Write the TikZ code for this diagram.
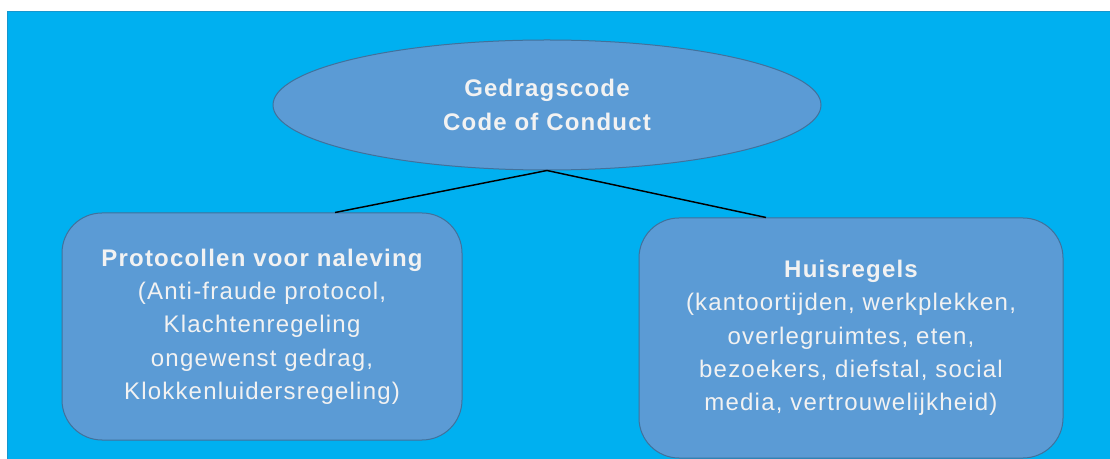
\documentclass[tikz,border=0pt]{standalone}
\usepackage{fontspec}
\setmainfont{Liberation Sans}[LetterSpace=5]
\usetikzlibrary{shapes.geometric,calc}

\definecolor{bgcyan}{RGB}{0,176,240}
\definecolor{bgedge}{RGB}{22,150,206}
\definecolor{boxblue}{RGB}{91,155,213}
\definecolor{boxline}{RGB}{65,113,156}
\definecolor{boxtext}{RGB}{242,242,242}

\tikzset{every picture/.style={line width=0.75pt}}
\tikzset{
  topic/.style={ellipse, draw=boxline, fill=boxblue, text=boxtext, inner sep=0pt,
    font=\fontsize{18}{25.5}\selectfont\bfseries, align=center,
    minimum width=411pt, minimum height=97.5pt},
  rulebox/.style={rectangle, rounded corners=30pt, draw=boxline, fill=boxblue,
    text=boxtext, inner sep=0pt, font=\fontsize{18}{25}\selectfont, align=center},
  link/.style={draw=black, line width=1.1pt}
}

\begin{document}
\begin{tikzpicture}[x=0.75pt,y=0.75pt,yscale=-1,xscale=1]
\useasboundingbox (0,0) rectangle (1110,459);

%Background
\fill [bgcyan] (7,12) rectangle (1110,459);
\draw [bgedge] (7,459) -- (7,12) -- (1110,12);

% Ellipse
\node [topic] (code) at (547,105) {Gedragscode\\Code of Conduct};

% Rounded boxes
\node [rulebox, minimum width=300pt, minimum height=170.25pt] (prot) at (262,326.5)
  {{\bfseries Protocollen voor naleving}\\(Anti-fraude protocol,\\Klachtenregeling\\ongewenst gedrag,\\Klokkenluidersregeling)};
\node [rulebox, minimum width=318pt, minimum height=180pt] (huis) at (851,338)
  {{\bfseries Huisregels}\\(kantoortijden, werkplekken,\\overlegruimtes, eten,\\bezoekers, diefstal, social\\media, vertrouwelijkheid)};

%Straight Lines
\draw [link] (code.south) -- ($(prot.north)+(73,0)$);
\draw [link] (code.south) -- ($(huis.north)+(-85,0)$);

\end{tikzpicture}
\end{document}
